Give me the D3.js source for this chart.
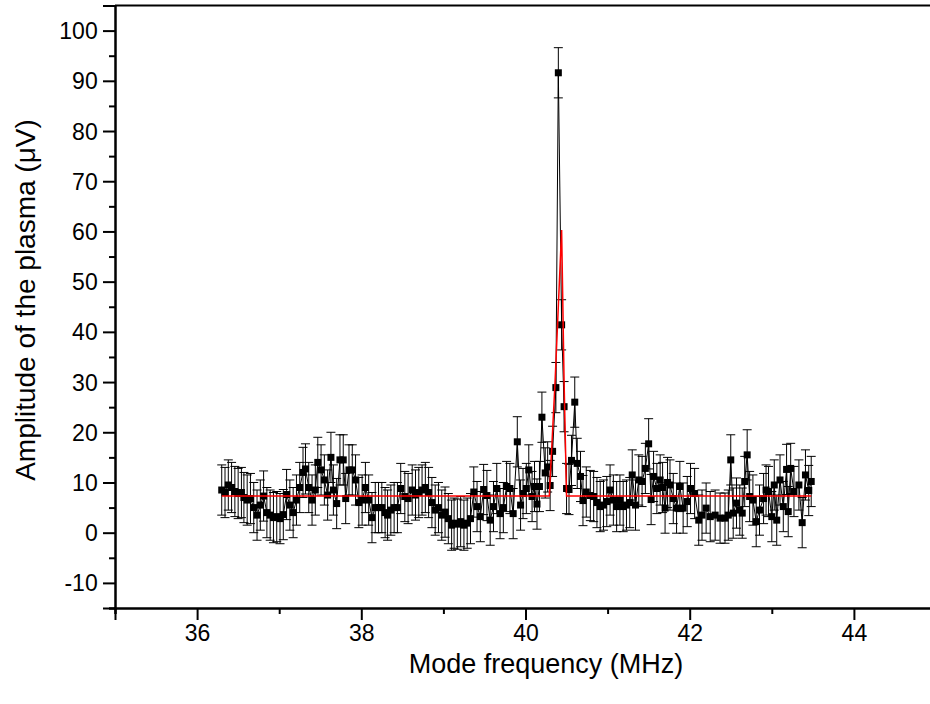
<!DOCTYPE html>
<html><head><meta charset="utf-8">
<script src="https://cdn.jsdelivr.net/npm/d3@7"></script>
<style>body{margin:0;background:#fff}svg{display:block}text{font-family:"Liberation Sans",Arial,sans-serif;fill:#000}</style>
</head><body>
<svg id="c" width="930" height="704"></svg>
<script>
const freq = [36.30,36.34,36.38,36.42,36.46,36.50,36.54,36.57,36.61,36.65,36.69,36.73,36.77,36.81,36.85,36.89,36.93,36.97,37.01,37.05,37.09,37.13,37.17,37.21,37.25,37.29,37.32,37.36,37.40,37.44,37.47,37.51,37.55,37.59,37.63,37.66,37.70,37.74,37.78,37.81,37.85,37.89,37.93,37.97,38.01,38.05,38.09,38.13,38.17,38.21,38.25,38.29,38.32,38.36,38.40,38.44,38.48,38.53,38.57,38.62,38.66,38.70,38.74,38.78,38.82,38.86,38.90,38.94,38.98,39.02,39.06,39.10,39.13,39.17,39.21,39.25,39.29,39.33,39.37,39.41,39.45,39.49,39.53,39.57,39.61,39.65,39.69,39.73,39.77,39.81,39.85,39.90,39.94,39.97,40.01,40.04,40.08,40.11,40.14,40.17,40.20,40.24,40.27,40.30,40.33,40.37,40.40,40.44,40.47,40.50,40.53,40.56,40.60,40.63,40.67,40.70,40.74,40.79,40.83,40.87,40.91,40.95,40.99,41.03,41.07,41.11,41.15,41.19,41.23,41.27,41.30,41.34,41.38,41.42,41.46,41.50,41.53,41.56,41.60,41.64,41.67,41.70,41.73,41.76,41.80,41.84,41.88,41.92,41.97,42.01,42.06,42.11,42.15,42.20,42.25,42.31,42.37,42.43,42.47,42.50,42.53,42.57,42.61,42.64,42.67,42.70,42.73,42.77,42.81,42.85,42.90,42.93,42.96,43.00,43.03,43.06,43.10,43.14,43.18,43.20,43.23,43.27,43.33,43.37,43.41,43.45,43.48];
const amplitude = [8.5,8.0,9.5,9.0,8.2,7.8,8.0,7.0,6.5,6.8,5.0,3.5,5.5,7.3,4.0,3.5,3.0,3.2,2.8,3.6,7.6,5.5,4.0,6.5,9.0,12.0,12.7,9.0,6.5,8.5,14.0,12.5,10.5,7.5,15.0,8.5,5.8,14.5,14.5,6.8,12.5,12.5,10.5,6.0,6.5,9.0,6.5,3.0,5.0,5.0,5.0,4.0,3.5,4.5,5.0,5.0,8.8,7.2,6.8,8.5,7.5,8.0,8.5,9.0,8.0,6.0,4.5,5.0,3.5,4.1,2.8,1.5,1.9,1.7,2.2,1.5,1.9,2.8,8.1,5.2,3.2,8.6,7.4,2.5,5.2,8.8,3.8,5.0,9.2,8.8,3.8,18.1,5.5,7.8,8.8,12.5,7.2,9.2,5.7,9.2,23.0,11.9,13.1,9.4,16.2,28.9,91.6,41.4,25.1,8.8,8.6,14.4,26.0,13.8,11.2,6.4,8.1,7.4,7.2,6.0,5.2,5.5,6.2,8.5,6.5,5.2,6.5,5.2,5.5,6.0,11.5,5.5,10.5,10.2,12.8,17.7,6.6,11.2,8.8,10.5,9.0,4.9,10.0,9.5,6.8,4.9,9.2,4.9,6.2,8.8,7.8,2.5,3.5,4.9,3.2,3.5,2.9,2.9,3.5,14.5,3.9,5.9,4.5,3.9,10.2,15.5,7.2,6.5,2.2,4.5,6.8,8.5,8.2,3.2,9.5,2.5,10.5,5.2,12.6,4.2,12.8,8.2,9.5,2.0,11.5,8.4,10.2];
const errorHalf = 5.0;
const fitFreq = [36.30,40.29,40.36,40.44,40.47,40.50,43.48];
const fitAmp  = [7.3,7.3,30.0,60.3,30.0,7.3,7.3];
const xMajorTicks = [36,38,40,42,44];
const xMinorTicks = [35,37,39,41,43,45];
const yMajorTicks = [-10,0,10,20,30,40,50,60,70,80,90,100];
const yMinorTicks = [-15,-5,5,15,25,35,45,55,65,75,85,95,105];
const xTitle = "Mode frequency (MHz)";
const yTitle = "Amplitude of the plasma (\u03BCV)";

const svg = d3.select("#c");
const mLeft = 115, mTop = 5.5, mBottom = 608, mRight = 936;
const x = d3.scaleLinear().domain([35,45]).range([mLeft,mRight]);
const y = d3.scaleLinear().domain([-15,105]).range([mBottom,mTop]);
const pts = freq.map((f,i)=>({x:f,y:amplitude[i]}));
const plainFmt = d => String(d);

const gx = svg.append("g").attr("transform",`translate(0,${mBottom})`);
gx.call(d3.axisBottom(x).tickValues(xMajorTicks).tickSize(12).tickFormat(plainFmt));
const gxm = svg.append("g").attr("transform",`translate(0,${mBottom})`);
gxm.call(d3.axisBottom(x).tickValues(xMinorTicks).tickSize(6).tickFormat(""));
const gy = svg.append("g").attr("transform",`translate(${mLeft},0)`);
gy.call(d3.axisLeft(y).tickValues(yMajorTicks).tickSize(12).tickFormat(plainFmt));
const gym = svg.append("g").attr("transform",`translate(${mLeft},0)`);
gym.call(d3.axisLeft(y).tickValues(yMinorTicks).tickSize(6).tickFormat(""));
[gx,gxm,gy,gym].forEach(g=>{
  g.selectAll(".domain").attr("stroke","#000").attr("stroke-width",2);
  g.selectAll(".tick line").attr("stroke","#000").attr("stroke-width",2);
});
gx.selectAll(".tick text").attr("font-size",23).attr("dy","0.8em").attr("font-family","Liberation Sans, Arial, sans-serif");
gy.selectAll(".tick text").attr("font-size",23).attr("dx","-0.1em").attr("dy","0.35em").attr("font-family","Liberation Sans, Arial, sans-serif");
svg.append("line").attr("x1",mLeft).attr("x2",930).attr("y1",mTop).attr("y2",mTop).attr("stroke","#000").attr("stroke-width",2);

svg.append("text").attr("x",546).attr("y",673).attr("text-anchor","middle").attr("font-size",27).text(xTitle);
svg.append("text").attr("transform",`translate(35,300) rotate(-90)`).attr("text-anchor","middle").attr("font-size",28).text(yTitle);

const eb = svg.append("g").attr("stroke","#000").attr("stroke-width",1);
pts.forEach(p=>{
  const cx = x(p.x), y1 = y(p.y+errorHalf), y2 = y(p.y-errorHalf);
  eb.append("line").attr("x1",cx).attr("x2",cx).attr("y1",y1).attr("y2",y2);
  eb.append("line").attr("x1",cx-4.5).attr("x2",cx+4.5).attr("y1",y1).attr("y2",y1);
  eb.append("line").attr("x1",cx-4.5).attr("x2",cx+4.5).attr("y1",y2).attr("y2",y2);
});
svg.append("path").datum(pts).attr("fill","none").attr("stroke","#000").attr("stroke-width",1)
  .attr("d",d3.line().x(d=>x(d.x)).y(d=>y(d.y)));
svg.append("g").selectAll("rect").data(pts).join("rect")
  .attr("x",d=>x(d.x)-3.5).attr("y",d=>y(d.y)-3.5).attr("width",7).attr("height",7).attr("fill","#000");
svg.append("path").datum(fitFreq.map((f,i)=>({x:f,y:fitAmp[i]}))).attr("fill","none").attr("stroke","#ff0000").attr("stroke-width",1.5)
  .attr("d",d3.line().x(d=>x(d.x)).y(d=>y(d.y)));
</script>
</body></html>
